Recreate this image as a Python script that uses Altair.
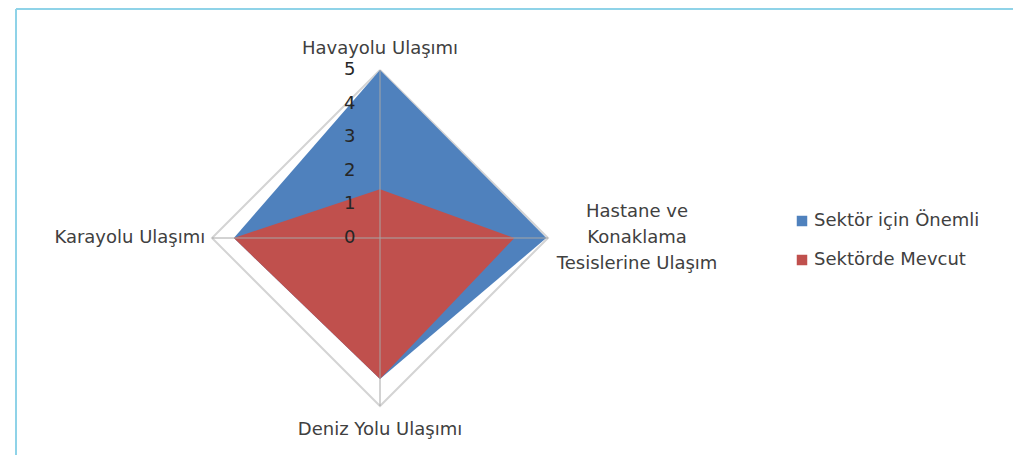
import math
import altair as alt
import pandas as pd

# ---- data ----
categories = ["Havayolu Ulaşımı", "Hastane ve\nKonaklama\nTesislerine Ulaşım",
              "Deniz Yolu Ulaşımı", "Karayolu Ulaşımı"]
series_names = ["Sektör için Önemli", "Sektörde Mevcut"]
onemli = [5.0, 4.95, 4.2, 4.35]
mevcut = [1.45, 4.0, 4.2, 4.35]
ticks = [0, 1, 2, 3, 4, 5]
r_max = 5

colors = ["#4F81BD", "#C0504D"]
FONT = "DejaVu Sans"
FS = 18
TXT = "#404040"

# ---- layout ----
W, H = 1005, 443
PAD_TOP = 4
k = 33.6               # pixels per unit
cx, cy = 372, 226      # centre in view pixels
xdom = [-cx / k, (W - cx) / k]
ydom = [-(H - cy) / k, cy / k]

angles = [90 - 90 * i for i in range(len(categories))]


def pol(v, a):
    return round(v * math.cos(math.radians(a)), 6), round(v * math.sin(math.radians(a)), 6)


rows = []
for name, vals in zip(series_names, [onemli, mevcut]):
    top = vals[0]; right = vals[1]; bottom = vals[2]; left = vals[3]
    rows.append(dict(s=name, x=-left, y=0, y2=0))
    rows.append(dict(s=name, x=0, y=top, y2=-bottom))
    rows.append(dict(s=name, x=right, y=0, y2=0))
area_df = pd.DataFrame(rows)

ring = []
for i, a in enumerate(angles + [angles[0]]):
    x, y = pol(r_max, a)
    ring.append(dict(x=x, y=y, o=i))
ring_df = pd.DataFrame(ring)

spokes = []
for a in angles:
    x, y = pol(r_max, a)
    spokes.append(dict(x=0, y=0, x2=x, y2=y))
spoke_df = pd.DataFrame(spokes)

tick_df = pd.DataFrame({"v": ticks, "x": [-0.9] * len(ticks), "lab": [str(t) for t in ticks]})

lab_rows = []
offs = {0: (0, 0.63, "center"), 1: (2.65, 26 / k, "center"), 2: (0, -0.71, "center"), 3: (-0.2, 0, "right")}
for i, (c, a) in enumerate(zip(categories, angles)):
    x, y = pol(r_max, a)
    dx, dy, al = offs[i]
    lab_rows.append(dict(x=x + dx, y=y + dy, t=c, al=al))
lab_df = pd.DataFrame(lab_rows)

X = lambda f="x": alt.X(f"{f}:Q", scale=alt.Scale(domain=xdom, nice=False, zero=False), axis=None)
Y = lambda f="y": alt.Y(f"{f}:Q", scale=alt.Scale(domain=ydom, nice=False, zero=False), axis=None)

color = alt.Color("s:N", scale=alt.Scale(domain=series_names, range=colors),
                  legend=alt.Legend(title=None, orient="none", legendX=785, legendY=200,
                                    symbolType="square", symbolSize=110, symbolStrokeWidth=0,
                                    labelFont=FONT, labelFontSize=FS, labelColor=TXT,
                                    labelLimit=400, rowPadding=21, padding=0, labelOffset=3))

ring_layer = alt.Chart(ring_df).mark_line(color="#d4d4d4", strokeWidth=2).encode(
    x=X(), y=Y(), order="o:Q")

areas = []
for name in series_names:
    areas.append(alt.Chart(area_df[area_df.s == name]).mark_area(opacity=1, interpolate="linear").encode(
        x=X(), y=Y(), y2="y2:Q", color=color))

spoke_layer = alt.Chart(spoke_df).mark_rule(color="#a6a6a6", strokeWidth=1).encode(
    x=X(), y=Y(), x2="x2:Q", y2="y2:Q")

tick_layer = alt.Chart(tick_df).mark_text(font=FONT, fontSize=FS, color="#262626", align="center",
                                          baseline="middle").encode(
    x=X(), y=Y("v"), text="lab:N")

lab_layers = []
for al in ["center", "right"]:
    lab_layers.append(alt.Chart(lab_df[lab_df.al == al]).mark_text(
        font=FONT, fontSize=FS, color=TXT, align=al, baseline="middle",
        lineBreak="\n", lineHeight=26).encode(x=X(), y=Y(), text="t:N"))

border = alt.Chart(pd.DataFrame({"a": [0]})).mark_rule(color="#8fd3e8", strokeWidth=2).encode(
    x=alt.value(8), y=alt.value(-PAD_TOP + 1), y2=alt.value(H))
border_top = alt.Chart(pd.DataFrame({"a": [0]})).mark_rule(color="#8fd3e8", strokeWidth=2).encode(
    x=alt.value(8), x2=alt.value(W), y=alt.value(-PAD_TOP + 1))

chart = alt.layer(border, border_top, ring_layer, *areas, spoke_layer, tick_layer, *lab_layers).properties(
    width=W, height=H,
    autosize=alt.AutoSizeParams(type="none"),
    padding={"left": 0, "top": PAD_TOP, "right": 0, "bottom": 0},
).configure_view(stroke=None)

chart.save("out.html", embed_options={"renderer": "svg", "actions": False})
